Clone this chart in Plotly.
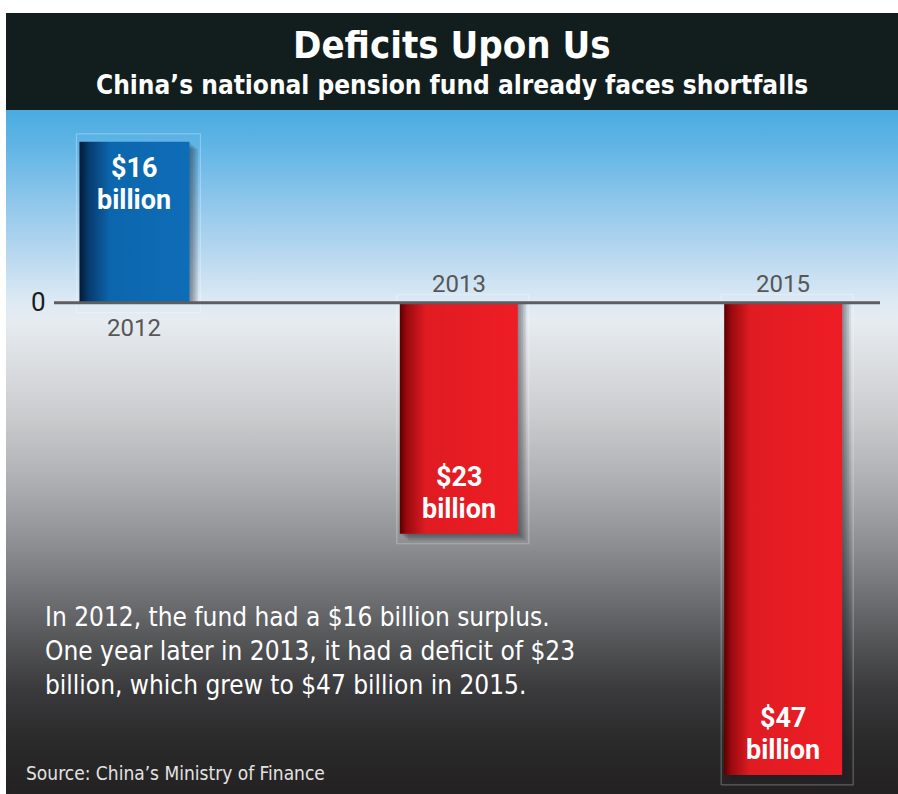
import plotly.graph_objects as go

# ---- data -------------------------------------------------------------
years = ["2012", "2013", "2015"]
balance = [16, -23, -47]  # pension fund balance, $ billion
value_text = ["$16", "$23", "$47"]
unit_text = "billion"

title = "Deficits Upon Us"
subtitle = "China\u2019s national pension fund already faces shortfalls"
note_lines = [
    "In 2012, the fund had a $16 billion surplus.",
    "One year later in 2013, it had a deficit of $23",
    "billion, which grew to $47 billion in 2015.",
]
source = "Source: China\u2019s Ministry of Finance"

# ---- geometry ---------------------------------------------------------
W, H = 898, 794
M_L, M_T = 6, 110
PW, PH = W - M_L, H - M_T
X_RANGE = [-0.396, 2.354]
Y_RANGE = [-48.9, 19.17]
PX_X = PW / (X_RANGE[1] - X_RANGE[0])   # pixels per x unit
PX_Y = PH / (Y_RANGE[1] - Y_RANGE[0])   # pixels per $bn
BAR_PX = [110, 118, 118]                # bar widths in pixels

COND = "Liberation Sans Narrow, DejaVu Sans Condensed, Roboto, sans-serif"
SANS = "Roboto, Open Sans, sans-serif"


def frac(py):
    """Position of a pixel row inside the plot area, 0 = bottom, 1 = top."""
    return (H - py) / PH


fig = go.Figure()

# background: sky blue fading to white, then to charcoal
bg_stops = [
    (794, "#232122"), (740, "#2b2a2b"), (690, "#3a3a3c"), (640, "#555658"),
    (590, "#737477"), (540, "#909194"), (480, "#afb0b3"), (420, "#c9cacc"),
    (360, "#dcdfe2"), (320, "#e6ecf1"), (300, "#dce9f4"), (260, "#bcdaf0"),
    (200, "#8dc6ea"), (150, "#63b6e6"), (110, "#4aabe1"),
]
fig.add_trace(go.Scatter(
    x=[X_RANGE[0], X_RANGE[1], X_RANGE[1], X_RANGE[0], X_RANGE[0]],
    y=[Y_RANGE[0], Y_RANGE[0], Y_RANGE[1], Y_RANGE[1], Y_RANGE[0]],
    mode="lines", line=dict(width=0), fill="toself",
    fillgradient=dict(type="vertical", start=Y_RANGE[0], stop=Y_RANGE[1],
                      colorscale=[[frac(p), c] for p, c in bg_stops]),
    hoverinfo="skip", showlegend=False,
))

bar_scales = {
    "pos": [[0, "#021a36"], [0.08, "#073a6b"], [0.28, "#0c66ad"], [1, "#0e6db7"]],
    "neg": [[0, "#5a0000"], [0.06, "#9a0a0f"], [0.22, "#e01b22"], [1, "#ee1d25"]],
}

for i, v in enumerate(balance):
    half = BAR_PX[i] / PX_X / 2
    x0, x1 = i - half, i + half

    # faint frame around each bar
    fx0, fx1 = x0 - 3 / PX_X, x1 + 11 / PX_X
    fy0, fy1 = min(0, v) - 10 / PX_Y, max(0, v) + 8 / PX_Y
    fig.add_trace(go.Scatter(
        x=[fx0, fx1, fx1, fx0, fx0], y=[fy0, fy0, fy1, fy1, fy0],
        mode="lines", line=dict(color="rgba(255,255,255,0.28)", width=1.2),
        hoverinfo="skip", showlegend=False,
    ))

    # soft drop shadow to the lower right
    for k in range(1, 6):
        dx, dy = k * 1.7 / PX_X, k * 1.4 / PX_Y
        fig.add_trace(go.Scatter(
            x=[x0 + dx, x1 + dx, x1 + dx, x0 + dx, x0 + dx],
            y=[0, 0, v - dy, v - dy, 0],
            mode="lines", line=dict(width=0), fill="toself",
            fillcolor="rgba(30,30,35,0.11)",
            hoverinfo="skip", showlegend=False,
        ))

    # the bar itself, darkened along its left edge
    fig.add_trace(go.Scatter(
        x=[x0, x1, x1, x0, x0], y=[0, 0, v, v, 0],
        mode="lines", line=dict(width=0), fill="toself",
        fillgradient=dict(type="horizontal", start=x0, stop=x1,
                          colorscale=bar_scales["pos" if v > 0 else "neg"]),
        name=years[i], hovertemplate=f"{years[i]}: {v} $bn<extra></extra>",
        showlegend=False,
    ))

annotations = []
for i, v in enumerate(balance):
    # year label sits on the opposite side of the baseline from its bar
    annotations.append(dict(
        x=i, y=0, xref="x", yref="y", text=years[i], showarrow=False,
        yanchor="middle", yshift=(-25 if v > 0 else 19),
        font=dict(family=SANS, size=24, color="#575757"),
    ))
    # two-line value label at the far end of the bar
    if v > 0:
        shifts = (-26, -58)
    else:
        shifts = (57, 25)
    for txt, ys in zip((value_text[i], unit_text), shifts):
        annotations.append(dict(
            x=i, y=v, xref="x", yref="y", text=f"<b>{txt}</b>",
            showarrow=False, yanchor="middle", yshift=ys,
            font=dict(family=SANS, size=27, color="white"),
        ))

annotations += [
    dict(x=(38 - M_L) / PW, y=0, xref="paper", yref="y", text="0",
         showarrow=False, xanchor="center", yanchor="middle", yshift=1,
         font=dict(family=SANS, size=26, color="#1c1c1c")),
    dict(x=0.5, y=1 + (110 - 45) / PH, xref="paper", yref="paper",
         text=f"<b>{title}</b>", showarrow=False, yanchor="middle",
         font=dict(family=COND, size=38, color="white")),
    dict(x=0.5, y=1 + (110 - 85) / PH, xref="paper", yref="paper",
         text=f"<b>{subtitle}</b>", showarrow=False, yanchor="middle",
         font=dict(family=COND, size=26, color="white")),
    dict(x=(43 - M_L) / PW, y=frac(600), xref="paper", yref="paper",
         text="<br>".join(note_lines), showarrow=False,
         xanchor="left", yanchor="top", align="left",
         font=dict(family=COND, size=26, color="white")),
    dict(x=(24 - M_L) / PW, y=frac(773), xref="paper", yref="paper",
         text=source, showarrow=False, xanchor="left", yanchor="middle",
         font=dict(family=COND, size=19, color="#e2e2e2")),
]

shapes = [
    # title band
    dict(type="rect", xref="paper", yref="paper", x0=0, x1=1,
         y0=1, y1=1 + (110 - 13) / PH, fillcolor="#121e1e",
         line=dict(width=0), layer="above"),
    # baseline
    dict(type="line", xref="paper", yref="y", x0=(54 - M_L) / PW,
         x1=(880 - M_L) / PW, y0=0, y1=0,
         line=dict(color="#5d5e60", width=3), layer="above"),
]

fig.update_layout(
    width=W, height=H,
    margin=dict(l=M_L, r=0, t=M_T, b=0, pad=0),
    paper_bgcolor="white", plot_bgcolor="white",
    xaxis=dict(range=X_RANGE, visible=False, fixedrange=True),
    yaxis=dict(range=Y_RANGE, visible=False, fixedrange=True),
    annotations=annotations, shapes=shapes,
)

fig.write_html("out.html")
